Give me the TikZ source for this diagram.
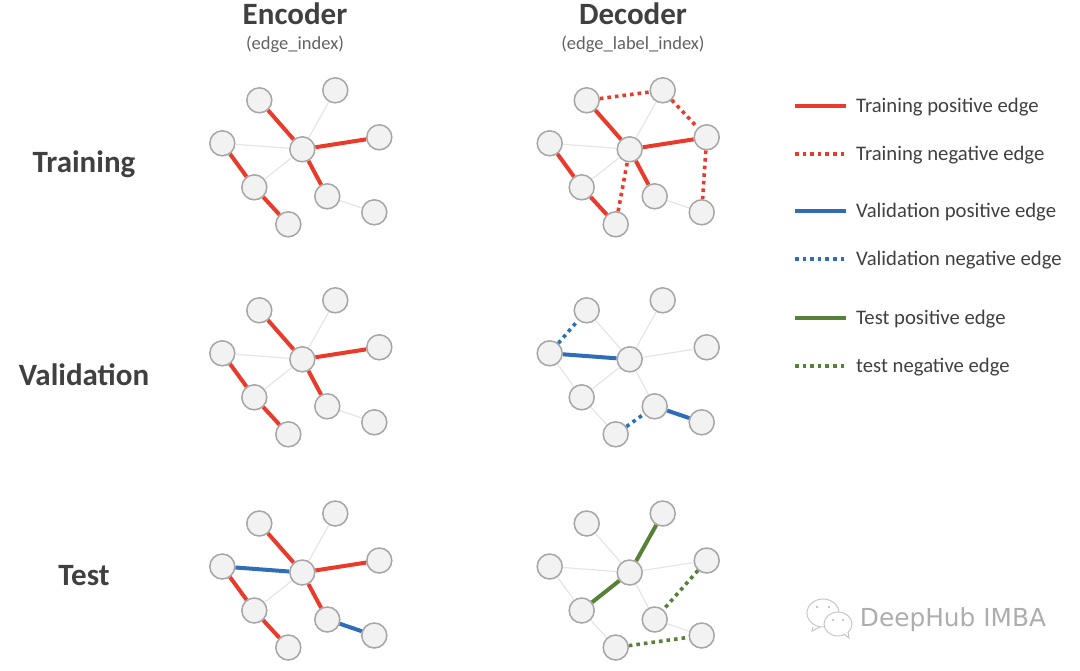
\documentclass[tikz,border=0pt]{standalone}
\usepackage{fontspec}
\setmainfont{Carlito}
\newfontfamily\markfont{DejaVu Sans}
\usetikzlibrary{positioning}
\definecolor{TrainRed}{HTML}{E93A2B}
\definecolor{ValBlue}{HTML}{2F6DB9}
\definecolor{TestGreen}{HTML}{578139}
\definecolor{NodeGray}{HTML}{A6A6A6}
\definecolor{NodeFill}{HTML}{F2F2F2}
\definecolor{InkGray}{HTML}{404040}

% one graph: the nine nodes, named by prefix
\newcommand{\graphnodes}[3]{%
  \foreach \n/\x/\y in {a/259/100, b/335/90, c/379/137, d/222/143, e/302/149,
                        f/254/187, g/327/196, h/374/212, i/288/224} {
    \node[gnode] (#1\n) at (\x+#2,\y+#3) {};
  }
}
\newcommand{\graphedges}[3]{%
  \foreach \u/\v in {#3} { \draw[#1] (#2\u) -- (#2\v); }
}

\begin{document}
\begin{tikzpicture}[
  x=1pt, y=-1pt,
  gnode/.style={circle, draw=NodeGray, line width=1.5pt, fill=NodeFill,
    minimum size=25pt, inner sep=0pt},
  faint/.style={line width=1.2pt, draw=black!10},
  redpos/.style={line width=4pt, draw=TrainRed},
  redneg/.style={line width=3.6pt, draw=TrainRed, dash pattern=on 3.6pt off 4pt},
  bluepos/.style={line width=4pt, draw=ValBlue},
  blueneg/.style={line width=3.6pt, draw=ValBlue, dash pattern=on 3.6pt off 4pt},
  greenpos/.style={line width=4pt, draw=TestGreen},
  greenneg/.style={line width=3.6pt, draw=TestGreen, dash pattern=on 3.6pt off 4pt},
  coltitle/.style={font=\fontsize{31}{31}\selectfont\bfseries, text=InkGray, inner sep=0pt},
  colnote/.style={font=\fontsize{18.5}{18.5}\selectfont, text=black!62, inner sep=0pt},
  rowtitle/.style={font=\fontsize{31}{31}\selectfont\bfseries, text=InkGray, inner sep=0pt},
  keytext/.style={font=\fontsize{20.7}{20.7}\selectfont, text=InkGray, inner sep=0pt, anchor=west},
  mark line/.style={draw=black!24, line width=0.9pt, fill=white}
]
  \useasboundingbox (0,0) rectangle (1080,670);

  % headings
  \node[coltitle] (enc) at (295,14) {Encoder};
  \node[coltitle] (dec) at (633,14) {Decoder};
  \node[colnote] (encnote) at (295,44) {(edge\_index)};
  \node[colnote] (decnote) at (633,44) {(edge\_label\_index)};
  \node[rowtitle] (rowtrain) at (84,164) {Training};
  \node[rowtitle] (rowval) at (84,375) {Validation};
  \node[rowtitle] (rowtest) at (84,576) {Test};

  % training row
  \graphnodes{te}{0.3}{0.3}
  \graphedges{faint}{te}{b/e, d/e, f/e, g/h}
  \graphedges{redpos}{te}{a/e, c/e, g/e, d/f, f/i}
  \graphnodes{td}{327.7}{0.3}
  \graphedges{faint}{td}{b/e, d/e, f/e, g/h}
  \graphedges{redpos}{td}{a/e, c/e, g/e, d/f, f/i}
  \graphedges{redneg}{td}{a/b, b/c, c/h, i/e}

  % validation row
  \graphnodes{ve}{0.3}{210.3}
  \graphedges{faint}{ve}{b/e, d/e, f/e, g/h}
  \graphedges{redpos}{ve}{a/e, c/e, g/e, d/f, f/i}
  \graphnodes{vd}{327.7}{210.3}
  \graphedges{faint}{vd}{a/e, b/e, c/e, f/e, g/e, d/f, f/i}
  \graphedges{bluepos}{vd}{d/e, g/h}
  \graphedges{blueneg}{vd}{d/a, i/g}

  % test row
  \graphnodes{se}{0.3}{423.5}
  \graphedges{faint}{se}{b/e, f/e}
  \graphedges{redpos}{se}{a/e, c/e, g/e, d/f, f/i}
  \graphedges{bluepos}{se}{d/e, g/h}
  \graphnodes{sd}{327.7}{423.5}
  \graphedges{faint}{sd}{a/e, c/e, d/e, g/e, d/f, f/i, g/h}
  \graphedges{greenpos}{sd}{b/e, f/e}
  \graphedges{greenneg}{sd}{c/g, i/h}

  % legend
  \foreach \k/\y/\sty/\txt in {
      a/106/redpos/Training positive edge,
      b/154/redneg/Training negative edge,
      c/211/bluepos/Validation positive edge,
      d/259/blueneg/Validation negative edge,
      e/318/greenpos/Test positive edge,
      f/366/greenneg/test negative edge} {
    \coordinate (key\k) at (795,\y);
    \node[keytext] (label\k) at (856,\y+1) {\txt};
    \draw[\sty] (key\k) -- ++(51,0);
  }

  % watermark
  \draw[mark line] (823,613) ellipse (16 and 14);
  \draw[mark line] (813,627) -- (812,631) -- (820,627);
  \draw[mark line] (838,624) ellipse (14 and 12);
  \draw[mark line] (844,634) -- (849,638) -- (848,632);
  \foreach \x/\y in {817/607, 829/607, 833/620, 843/620} {
    \fill[black!30] (\x,\y) circle (1.2);
  }
  \node[font=\markfont\fontsize{24.8}{24.8}\selectfont, text=black!32, inner sep=0pt] (mark) at (953,620) {DeepHub IMBA};
\end{tikzpicture}
\end{document}
